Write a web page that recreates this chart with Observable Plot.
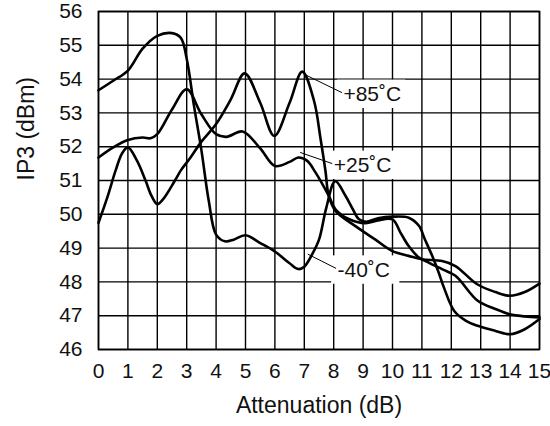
<!DOCTYPE html>
<html>
<head>
<meta charset="utf-8">
<script src="https://cdn.jsdelivr.net/npm/d3@7"></script>
<script src="https://cdn.jsdelivr.net/npm/@observablehq/plot@0.6"></script>
<style>
  html, body { margin: 0; padding: 0; background: #fff; }
</style>
</head>
<body>
<div id="chart"></div>
<script>
// Attenuation (dB) sample points and IP3 (dBm) readings per temperature
const attenM40 = [0, 0.5, 1, 1.5, 2, 2.5, 2.8, 3, 3.25, 3.5, 3.75, 4, 4.3, 4.6, 5, 5.5, 6, 6.5, 6.8, 7, 7.27, 7.5, 7.75, 8.05, 8.4, 8.65, 8.85, 9.1, 9.5, 10, 10.55, 10.9, 11.1, 11.35, 11.57, 11.75, 12.1, 12.5, 12.9, 13.5, 14, 14.5, 15];
const ip3M40  = [53.67, 53.95, 54.25, 54.9, 55.28, 55.36, 55.22, 54.6, 53.2, 51.9, 50.4, 49.4, 49.2, 49.25, 49.38, 49.15, 48.9, 48.55, 48.38, 48.45, 48.82, 49.25, 50.2, 50.98, 50.55, 50.15, 49.86, 49.78, 49.88, 49.93, 49.9, 49.66, 49.26, 48.77, 48.28, 47.83, 47.14, 46.85, 46.7, 46.55, 46.45, 46.6, 46.9];

const attenP25 = [0, 0.5, 1, 1.5, 1.77, 2, 2.5, 3, 3.5, 4, 4.35, 4.9, 5.5, 6, 6.5, 6.8, 7.1, 7.38, 7.83, 8.06, 8.51, 9.08, 9.5, 10, 10.27, 10.55, 10.9, 11.23, 11.7, 12.14, 12.9, 13.5, 14, 14.5, 15];
const ip3P25  = [51.68, 51.98, 52.2, 52.27, 52.25, 52.37, 53.1, 53.7, 52.96, 52.37, 52.29, 52.45, 51.95, 51.43, 51.55, 51.68, 51.58, 51.24, 50.55, 50.15, 49.86, 49.74, 49.82, 49.85, 49.46, 49.06, 48.72, 48.57, 48.37, 48.18, 47.44, 47.2, 47.04, 46.98, 46.95];

const attenP85 = [0, 0.3, 0.58, 0.8, 1, 1.3, 1.6, 1.8, 2, 2.2, 2.6, 2.8, 3.13, 3.5, 4, 4.5, 4.97, 5.5, 5.98, 6.5, 6.93, 7.33, 7.55, 7.72, 7.83, 8.06, 8.74, 9.42, 9.98, 10.55, 11, 11.69, 12.14, 12.88, 13.5, 14, 14.5, 15];
const ip3P85  = [49.75, 50.5, 51.29, 51.8, 51.98, 51.6, 51.0, 50.55, 50.3, 50.45, 51.0, 51.3, 51.68, 52.15, 52.67, 53.4, 54.17, 53.3, 52.32, 53.3, 54.22, 53.36, 52.25, 51.28, 50.55, 50.1, 49.65, 49.25, 48.92, 48.77, 48.67, 48.62, 48.47, 47.93, 47.7, 47.59, 47.7, 47.95];

const seriesNames = ["-40˚C", "+25˚C", "+85˚C"];
const xTicks = [0, 1, 2, 3, 4, 5, 6, 7, 8, 9, 10, 11, 12, 13, 14, 15];
const yTicks = [46, 47, 48, 49, 50, 51, 52, 53, 54, 55, 56];
const xTitle = "Attenuation (dB)";
const yTitle = "IP3 (dBm)";

// annotation anchors (data units): curve point -> label point
const labelCurveX = [7.12, 6.86, 6.98];
const labelCurveY = [48.82, 51.83, 54.15];
const labelTextX  = [8.13, 8.0, 8.33];
const labelTextY  = [48.35, 51.45, 53.55];

// build tables
const rows = [];
[[attenM40, ip3M40], [attenP25, ip3P25], [attenP85, ip3P85]].forEach(([xs, ys], i) => {
  xs.forEach((x, j) => rows.push({series: seriesNames[i], atten: x, ip3: ys[j]}));
});
const labels = seriesNames.map((s, i) => ({
  text: s, cx: labelCurveX[i], cy: labelCurveY[i], tx: labelTextX[i], ty: labelTextY[i]
}));

const ink = "#111";
const chart = Plot.plot({
  width: 550,
  height: 426,
  marginLeft: 98,
  marginRight: 11,
  marginTop: 11,
  marginBottom: 77,
  style: {fontFamily: "'Liberation Sans', Arial, sans-serif", fontSize: "21px", color: ink, background: "#fff"},
  x: {domain: [0, 15], ticks: xTicks, tickSize: 0, tickPadding: 14, label: null, tickFormat: d => String(d)},
  y: {domain: [46, 56], ticks: yTicks, tickSize: 0, tickPadding: 16, label: null, tickFormat: d => String(d)},
  marks: [
    Plot.ruleX(xTicks, {stroke: "#000", strokeWidth: 1.4}),
    Plot.ruleY(yTicks, {stroke: "#000", strokeWidth: 1.4}),
    Plot.frame({stroke: "#000", strokeWidth: 1.6}),
    Plot.rect(labels, {
      x1: d => d.tx - 0.2, x2: d => d.tx + 2.12,
      y1: d => d.ty - 0.42, y2: d => d.ty + 0.42,
      fill: "#fff"
    }),
    Plot.link(labels, {x1: "cx", y1: "cy", x2: d => d.tx - 0.05, y2: d => d.ty + 0.05, stroke: "#000", strokeWidth: 1}),
    Plot.text(labels, {x: "tx", y: "ty", text: "text", textAnchor: "start", fontSize: 21, fill: ink}),
    Plot.line(rows, {x: "atten", y: "ip3", z: "series", curve: "catmull-rom", stroke: "#000", strokeWidth: 2.6}),
    Plot.text([xTitle], {frameAnchor: "bottom", dy: 63, fontSize: 23, fill: ink}),
    Plot.text([yTitle], {frameAnchor: "left", dx: -72, rotate: -90, fontSize: 23, fill: ink})
  ]
});
document.getElementById("chart").appendChild(chart);
</script>
</body>
</html>
